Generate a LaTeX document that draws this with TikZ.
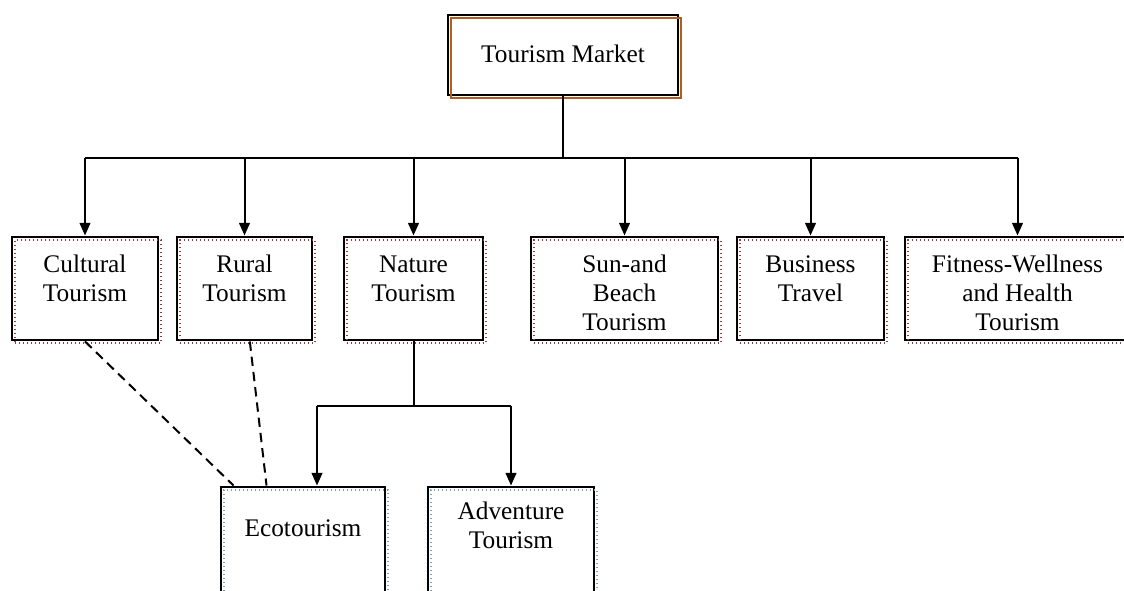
\documentclass[tikz,border=0pt]{standalone}
\usepackage{fontspec}
\setmainfont{Liberation Serif}
\usetikzlibrary{arrows.meta}
\definecolor{marketbrown}{RGB}{178,92,32}
\definecolor{shadowred}{RGB}{150,60,60}
\definecolor{shadowblue}{RGB}{120,160,190}

\begin{document}
\begin{tikzpicture}[x=0.75pt, y=-0.75pt,
  box/.style={draw, line width=2.2pt, fill=white, align=center, inner sep=0pt,
    font=\fontsize{19}{21.75}\selectfont},
  catbox/.style={box, text height=26.25pt+(#1-1)*21.75pt,
    text depth=51pt-(#1-1)*21.75pt,
    postaction={draw=shadowred, dotted, line width=1pt,
      transform canvas={shift={(2.2pt,-2.2pt)}}}},
  subbox/.style={box, text depth=81pt-#1, text height=#1,
    postaction={draw=shadowblue, dotted, line width=1pt,
      transform canvas={shift={(2.2pt,-2.2pt)}}}},
  link/.style={line width=1.5pt},
  arr/.style={link, -{Triangle[length=9.5pt,width=8pt]}},
  relation/.style={link, dash pattern=on 7pt off 4.5pt}
]
\useasboundingbox (0,0) rectangle (1124,590);

% top
\node[box, text height=35.25pt, text depth=24.75pt,
  postaction={draw=marketbrown, line width=1.5pt,
    transform canvas={shift={(2.2pt,-2.2pt)}}}]
  (market) at (563,55) [minimum width=172.5pt] {Tourism Market};

% market segments
\node[catbox=2] (cultural) at (85,288.5) [minimum width=109.5pt] {Cultural\\Tourism};
\node[catbox=2] (rural) at (244.5,288.5) [minimum width=101.25pt] {Rural\\Tourism};
\node[catbox=2] (nature) at (413.5,288.5) [minimum width=104.25pt] {Nature\\Tourism};
\node[catbox=3] (sun) at (624.5,288.5) [minimum width=140.25pt] {Sun-and\\Beach\\Tourism};
\node[catbox=2] (business) at (810.5,288.5) [minimum width=110.25pt] {Business\\Travel};
\node[catbox=3] (fitness) at (1017.5,288.5) [minimum width=168.75pt] {Fitness-Wellness\\and Health\\Tourism};

% nature sub-types
\node[subbox=36.75pt] (eco) at (303,541) [minimum width=123pt] {Ecotourism};
\node[subbox=45.75pt] (adv) at (511,541) [minimum width=124.5pt] {Adventure\\Tourism};

\coordinate (bus) at (555,158);
\draw[link] (market.south) -- (market.south |- bus);
\draw[link] (cultural.north |- bus) -- (fitness.north |- bus);
\foreach \n in {cultural,rural,nature,sun,business,fitness}
  \draw[arr] (\n.north |- bus) -- (\n.north);

\coordinate (split) at (413,406);
\draw[link] (nature.south) -- (nature.south |- split);
\draw[link] ([xshift=10.5pt]eco.north |- split) -- (adv.north |- split);
\draw[arr] ([xshift=10.5pt]eco.north |- split) -- ([xshift=10.5pt]eco.north);
\draw[arr] (adv.north |- split) -- (adv.north);

\draw[relation] (cultural.south) -- ([xshift=10.5pt]eco.north west);
\draw[relation] ([xshift=4pt]rural.south) -- ([xshift=35.25pt]eco.north west);
\end{tikzpicture}
\end{document}
